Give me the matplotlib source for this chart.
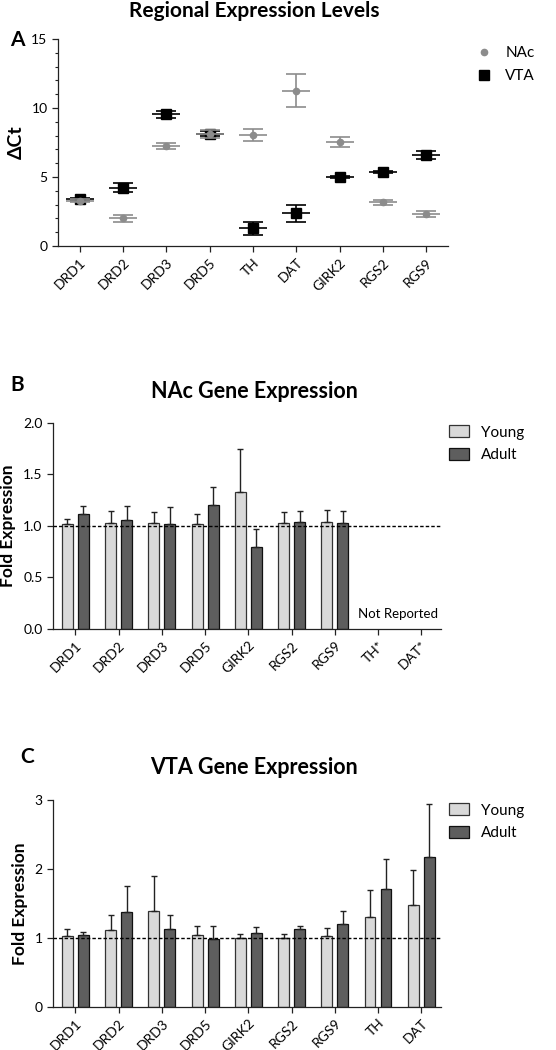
import numpy as np
import matplotlib
matplotlib.use('agg')
from matplotlib import pyplot as plt
from matplotlib.patches import Patch
from matplotlib.lines import Line2D

plt.rcParams['font.family'] = ['Lato', 'DejaVu Sans']
plt.rcParams['font.size'] = 9.5

# Panel A: delta Ct per region
genes_a = ['DRD1', 'DRD2', 'DRD3', 'DRD5', 'TH', 'DAT', 'GIRK2', 'RGS2', 'RGS9']
nac_mean = [3.28, 2.00, 7.27, 8.14, 8.07, 11.26, 7.54, 3.16, 2.32]
nac_sem = [0.10, 0.24, 0.23, 0.28, 0.43, 1.20, 0.34, 0.16, 0.20]
vta_mean = [3.38, 4.23, 9.54, 8.14, 1.28, 2.37, 4.98, 5.36, 6.59]
vta_sem = [0.12, 0.35, 0.27, 0.20, 0.46, 0.62, 0.08, 0.10, 0.29]

# Panel B: NAc fold expression
genes_b = ['DRD1', 'DRD2', 'DRD3', 'DRD5', 'GIRK2', 'RGS2', 'RGS9', 'TH*', 'DAT*']
nac_young = [1.013, 1.03, 1.026, 1.019, 1.33, 1.026, 1.036, np.nan, np.nan]
nac_young_err = [0.055, 0.116, 0.104, 0.091, 0.418, 0.104, 0.119, np.nan, np.nan]
nac_adult = [1.113, 1.055, 1.019, 1.197, 0.796, 1.032, 1.026, np.nan, np.nan]
nac_adult_err = [0.077, 0.139, 0.161, 0.183, 0.175, 0.114, 0.116, np.nan, np.nan]

# Panel C: VTA fold expression
genes_c = ['DRD1', 'DRD2', 'DRD3', 'DRD5', 'GIRK2', 'RGS2', 'RGS9', 'TH', 'DAT']
vta_young = [1.021, 1.108, 1.384, 1.045, 1.001, 1.001, 1.026, 1.306, 1.48]
vta_young_err = [0.106, 0.222, 0.506, 0.131, 0.054, 0.059, 0.121, 0.382, 0.504]
vta_adult = [1.035, 1.379, 1.132, 0.987, 1.069, 1.122, 1.205, 1.713, 2.177]
vta_adult_err = [0.054, 0.368, 0.203, 0.179, 0.082, 0.054, 0.188, 0.430, 0.769]

YOUNG = '#d9d9d9'
ADULT = '#5e5e5e'
NAC = '#8c8c8c'

fig = plt.figure(figsize=(5.56, 10.5), dpi=100)


def style(ax, labels, xlim):
    for s in ['top', 'right']:
        ax.spines[s].set_visible(False)
    for s in ['left', 'bottom']:
        ax.spines[s].set_linewidth(0.9)
        ax.spines[s].set_color('#222222')
    ax.set_xticks(np.arange(len(labels)))
    ax.set_xticklabels(labels, rotation=45, ha='right', rotation_mode='anchor')
    ax.tick_params(direction='out', length=4, width=0.9, color='#222222', labelsize=10)
    ax.set_xlim(*xlim)


# ---- A ----
axA = fig.add_axes([0.1043, 0.7657, 0.7014, 0.1971])
x = np.arange(len(genes_a))
for m, e, c, mk, ms in [(vta_mean, vta_sem, 'black', 's', 6.5), (nac_mean, nac_sem, NAC, 'o', 4.5)]:
    axA.errorbar(x, m, yerr=e, fmt='none', ecolor=c, elinewidth=1.2, capsize=7, capthick=1.2)
    axA.plot(x, m, ls='none', marker='_', ms=20, mew=1.2, color=c)
    axA.plot(x, m, ls='none', marker=mk, ms=ms, color=c)
axA.set_ylim(0, 15)
axA.set_yticks([0, 5, 10, 15])
axA.set_yticks(np.arange(0, 16, 1), minor=True)
axA.tick_params(axis='y', which='minor', length=2.5, width=0.8, color='#222222')
style(axA, genes_a, (-0.5, 8.5))
axA.set_ylabel('ΔCt', fontweight='bold', fontsize=14, labelpad=5)
fig.text(0.457, 0.999, 'Regional Expression Levels', ha='center', va='top', fontweight='bold', fontsize=15)
fig.text(0.018, 0.962, 'A', ha='left', va='center', fontweight='bold', fontsize=15)
hA = [Line2D([], [], ls='none', marker='o', ms=4.5, color=NAC),
      Line2D([], [], ls='none', marker='s', ms=6.5, color='black')]
axA.legend(hA, ['NAc', 'VTA'], loc='upper left', bbox_to_anchor=(0.832, 0.969), bbox_transform=fig.transFigure,
           frameon=False, fontsize=11, handlelength=1.0, handletextpad=0.9, labelspacing=0.6)


def bar_panel(rect, labels, young, yerr_y, adult, yerr_a, ylim, yticks, fmt):
    ax = fig.add_axes(rect)
    x = np.arange(len(labels))
    w = 0.25
    off = 0.185
    ax.bar(x - off, young, w, color=YOUNG, edgecolor='#333333', linewidth=0.9, zorder=2,
           yerr=[np.zeros(len(young)), yerr_y], error_kw=dict(ecolor='#222222', elinewidth=1.0, capsize=2.5, capthick=1.0))
    ax.bar(x + off, adult, w, color=ADULT, edgecolor='#111111', linewidth=0.9, zorder=2,
           yerr=[np.zeros(len(adult)), yerr_a], error_kw=dict(ecolor='#222222', elinewidth=1.0, capsize=2.5, capthick=1.0))
    ax.axhline(1.0, color='black', ls=(0, (2.5, 1.5)), lw=1.0, zorder=3)
    ax.set_ylim(*ylim)
    ax.set_yticks(yticks)
    ax.set_yticklabels([fmt.format(t) for t in yticks])
    style(ax, labels, (-0.52, 8.46))
    ax.set_ylabel('Fold Expression', fontweight='bold', fontsize=12.5, labelpad=5)
    h = [Patch(facecolor=YOUNG, edgecolor='#333333', linewidth=0.9),
         Patch(facecolor=ADULT, edgecolor='#111111', linewidth=0.9)]
    return ax, h


leg_kw = dict(loc='upper left', frameon=False, fontsize=11, handlelength=1.35, handleheight=0.8,
              handletextpad=0.8, labelspacing=0.55)

# ---- B ----
axB, hB = bar_panel([0.0953, 0.4012, 0.698, 0.1962], genes_b, nac_young, nac_young_err, nac_adult, nac_adult_err,
                    (0, 2.0), [0.0, 0.5, 1.0, 1.5, 2.0], '{:.1f}')
axB.text(8.4, 0.08, 'Not Reported', ha='right', va='bottom', fontsize=9.5)
fig.text(0.457, 0.6275, 'NAc Gene Expression', ha='center', va='center', fontweight='bold', fontsize=15.5)
fig.text(0.018, 0.633, 'B', ha='left', va='center', fontweight='bold', fontsize=15)
axB.legend(hB, ['Young', 'Adult'], bbox_to_anchor=(0.782, 0.608), bbox_transform=fig.transFigure, **leg_kw)

# ---- C ----
axC, hC = bar_panel([0.0953, 0.0412, 0.698, 0.1969], genes_c, vta_young, vta_young_err, vta_adult, vta_adult_err,
                    (0, 3), [0, 1, 2, 3], '{:.0f}')
fig.text(0.457, 0.2695, 'VTA Gene Expression', ha='center', va='center', fontweight='bold', fontsize=15.5)
fig.text(0.036, 0.279, 'C', ha='left', va='center', fontweight='bold', fontsize=15)
axC.legend(hC, ['Young', 'Adult'], bbox_to_anchor=(0.782, 0.248), bbox_transform=fig.transFigure, **leg_kw)

fig.savefig('out.png', dpi=100)
